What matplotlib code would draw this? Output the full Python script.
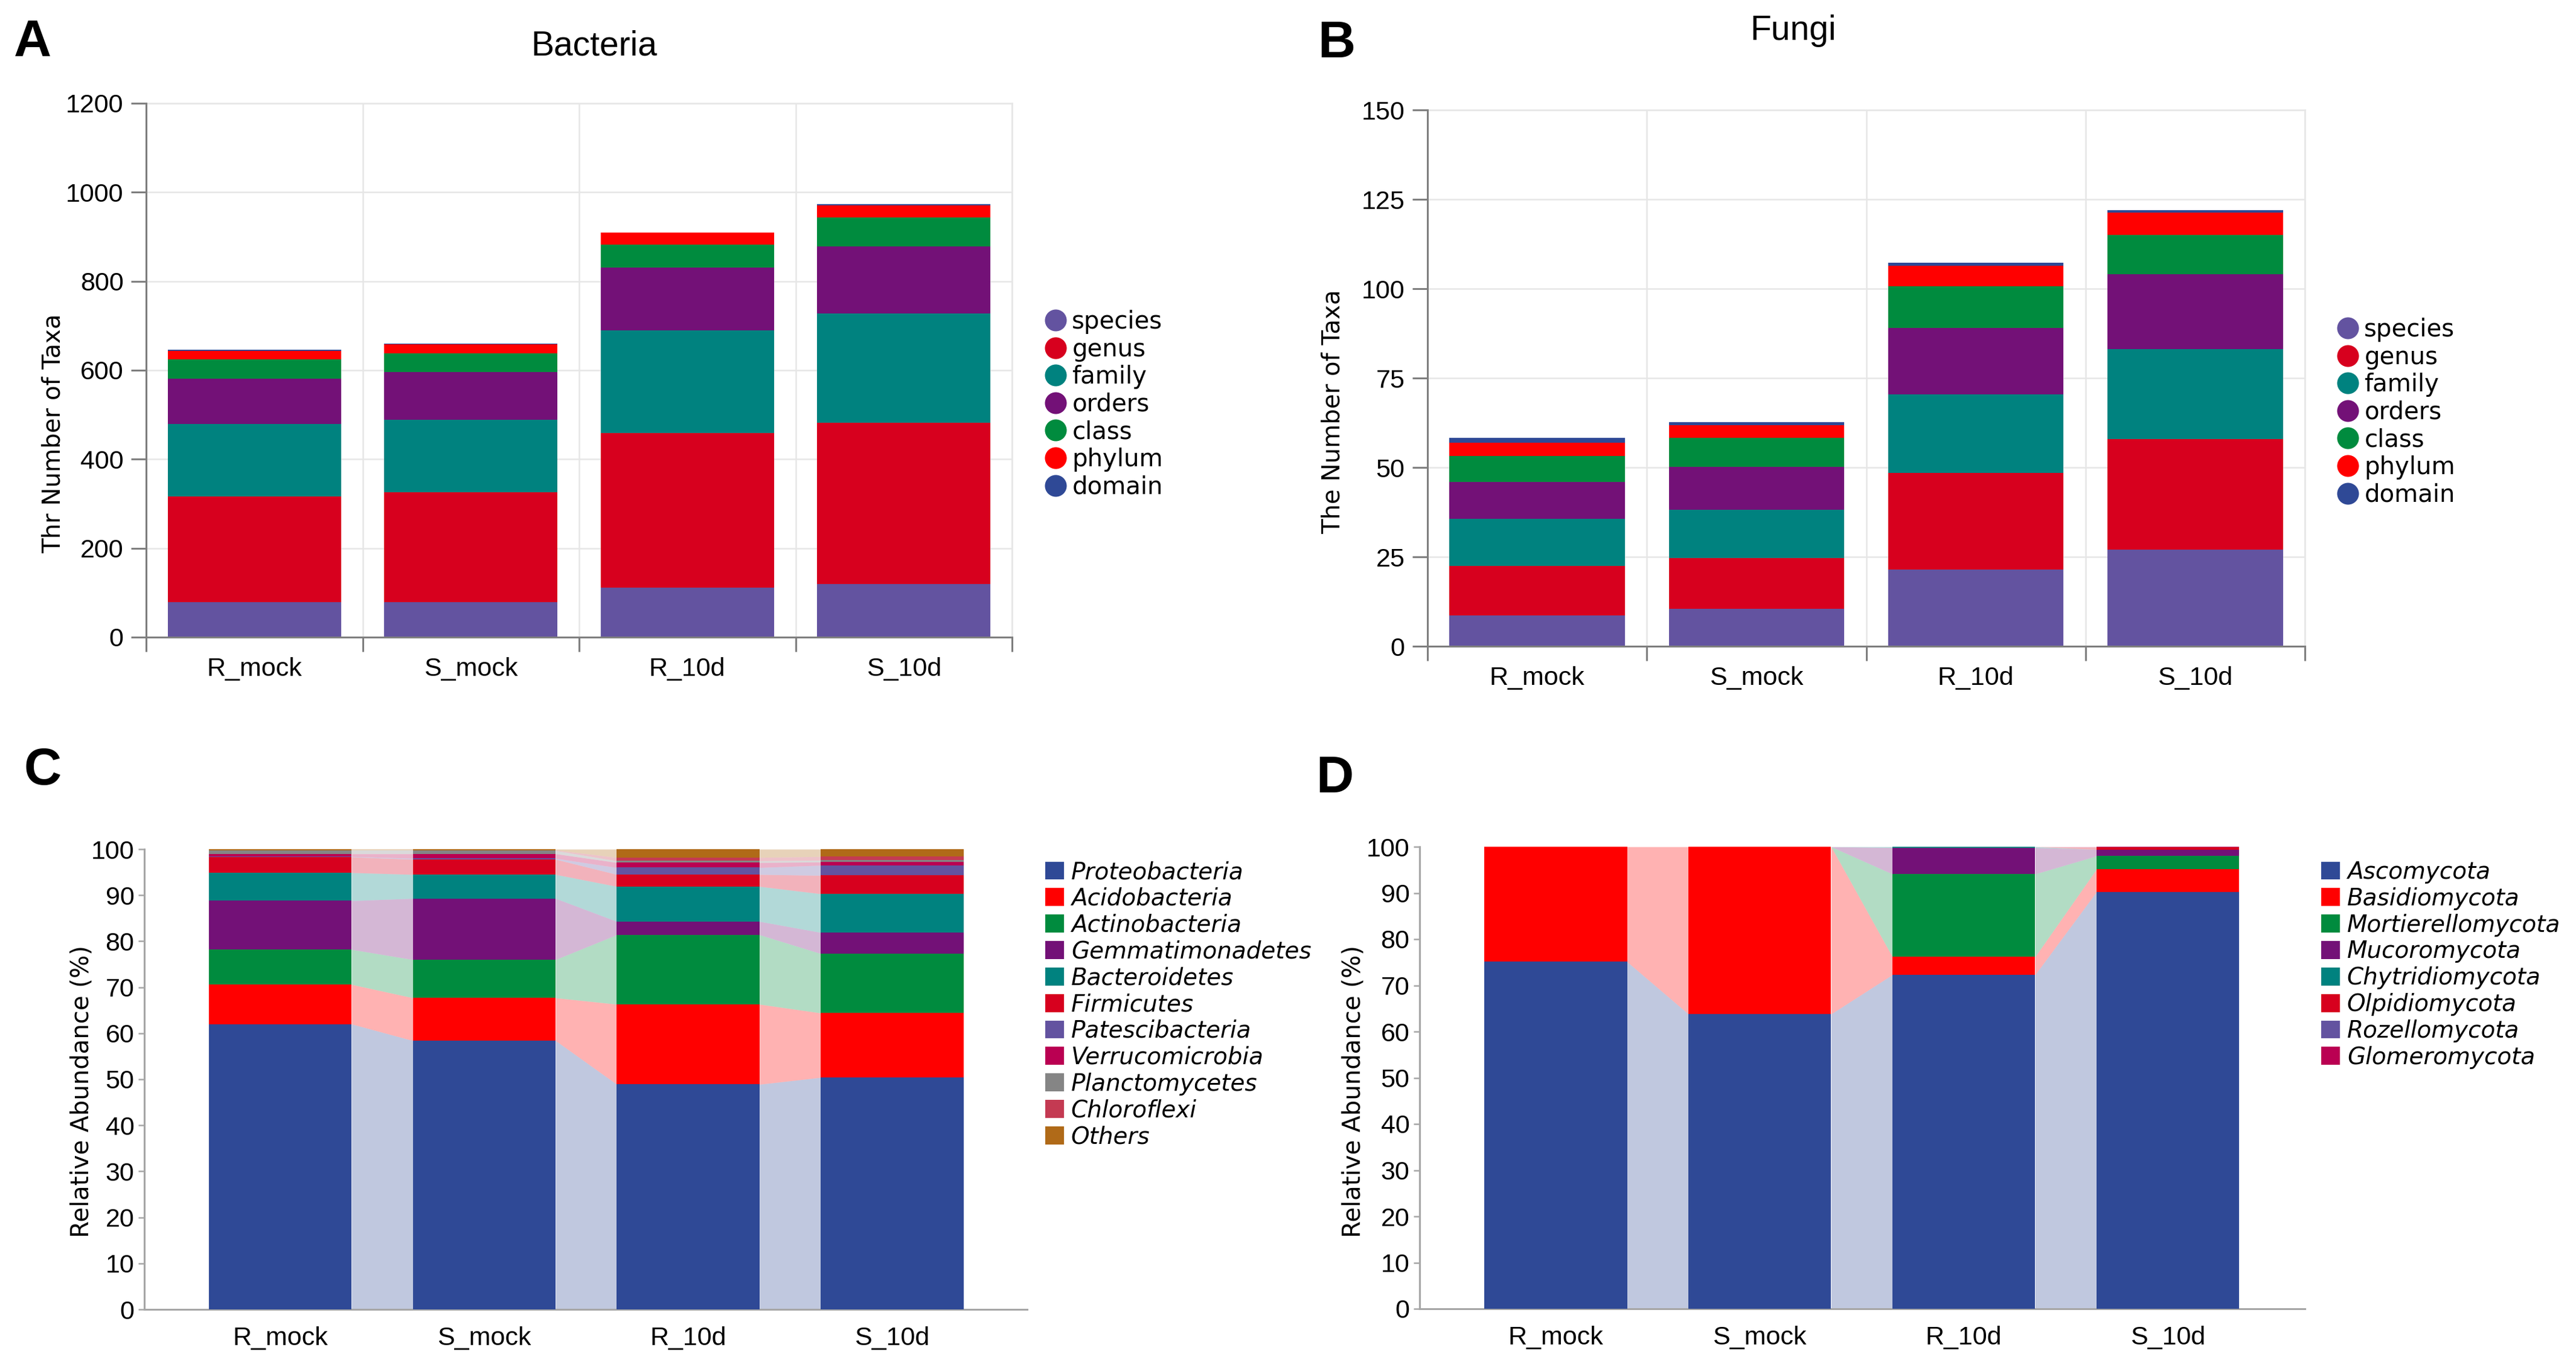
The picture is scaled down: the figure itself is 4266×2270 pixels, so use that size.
import matplotlib
matplotlib.use('Agg')
import matplotlib.pyplot as plt
from matplotlib.lines import Line2D
from matplotlib.patches import Patch
import numpy as np

W, H = 4266, 2270

samples = ['R_mock', 'S_mock', 'R_10d', 'S_10d']

# ---- Panel A: Bacteria taxa counts (stack order bottom -> top)
levels = ['species', 'genus', 'family', 'orders', 'class', 'phylum', 'domain']
bac_species = [79, 79, 111, 120]
bac_genus = [237, 247, 348, 362]
bac_family = [163, 163, 230, 245]
bac_orders = [102, 107, 142, 151]
bac_class = [44, 42, 52, 66]
bac_phylum = [19, 21, 26, 26]
bac_domain = [2, 1, 1, 3]

# ---- Panel B: Fungi taxa counts
fun_species = [8.6, 10.5, 21.5, 27.0]
fun_genus = [13.9, 14.1, 26.9, 30.9]
fun_family = [13.2, 13.5, 22.1, 25.2]
fun_orders = [10.2, 12.1, 18.6, 21.0]
fun_class = [7.3, 8.0, 11.6, 11.0]
fun_phylum = [3.7, 3.6, 5.8, 6.2]
fun_domain = [1.3, 0.9, 0.7, 0.6]

# ---- Panel C: bacterial phyla relative abundance (%)
bac_phyla = ['Proteobacteria', 'Acidobacteria', 'Actinobacteria', 'Gemmatimonadetes',
             'Bacteroidetes', 'Firmicutes', 'Patescibacteria', 'Verrucomicrobia',
             'Planctomycetes', 'Chloroflexi', 'Others']
proteobacteria = [62.0, 58.4, 48.9, 50.4]
acidobacteria = [8.6, 9.3, 17.4, 14.0]
actinobacteria = [7.6, 8.3, 15.1, 12.9]
gemmatimonadetes = [10.6, 13.3, 2.9, 4.6]
bacteroidetes = [6.1, 5.2, 7.6, 8.4]
firmicutes = [3.4, 3.3, 2.6, 4.0]
patescibacteria = [0.1, 0.2, 1.5, 2.2]
verrucomicrobia = [0.6, 1.0, 1.1, 0.7]
planctomycetes = [0.7, 0.7, 0.35, 0.4]
chloroflexi = [0.1, 0.1, 0.75, 0.8]
others = [0.2, 0.2, 1.8, 1.6]

# ---- Panel D: fungal phyla relative abundance (%)
fun_phyla = ['Ascomycota', 'Basidiomycota', 'Mortierellomycota', 'Mucoromycota',
             'Chytridiomycota', 'Olpidiomycota', 'Rozellomycota', 'Glomeromycota']
ascomycota = [75.1, 63.8, 72.3, 90.2]
basidiomycota = [24.9, 36.2, 3.9, 4.9]
mortierellomycota = [0.0, 0.0, 17.9, 2.9]
mucoromycota = [0.0, 0.0, 5.7, 1.4]
chytridiomycota = [0.0, 0.0, 0.2, 0.0]
olpidiomycota = [0.0, 0.0, 0.0, 0.5]
rozellomycota = [0.0, 0.0, 0.0, 0.0]
glomeromycota = [0.0, 0.0, 0.0, 0.1]

# colours
level_colors = ['#6353A0', '#D7001E', '#00827F', '#731177', '#008B3E', '#FF0000', '#2F4996']
bac_colors = ['#2F4996', '#FF0000', '#008B3E', '#731177', '#00827F', '#D7001E',
              '#6353A0', '#BA0052', '#858585', '#C43A52', '#B06A18']
fun_colors = ['#2F4996', '#FF0000', '#008B3E', '#731177', '#00827F', '#D7001E',
              '#6353A0', '#BA0052']

TICKFONT = ['Liberation Sans', 'DejaVu Sans']
LABFONT = ['DejaVu Sans']
TICKSIZE = 31

fig = plt.figure(figsize=(W / 100, H / 100), dpi=100)


def rect(l, t, r, b):
    return [l / W, 1 - b / H, (r - l) / W, (b - t) / H]


def count_panel(box, series, ymax, ystep, ylabel, label_xy):
    ax = fig.add_axes(rect(*box))
    x = np.arange(len(samples))
    bottom = np.zeros(len(samples))
    for vals, c in zip(series, level_colors):
        vals = np.asarray(vals, float)
        ax.bar(x, vals, 0.8, bottom=bottom, color=c, linewidth=0, zorder=3)
        bottom = bottom + vals
    ax.set_xlim(-0.5, 3.5)
    ax.set_ylim(0, ymax)
    ax.set_yticks(np.arange(0, ymax + 1, ystep))
    ax.set_xticks([-0.5, 0.5, 1.5, 2.5, 3.5])
    ax.set_xticklabels([])
    ax.set_xticks(x, minor=True)
    ax.set_xticklabels(samples, minor=True)
    ax.set_axisbelow(True)
    ax.grid(True, which='major', color='#E6E6E6', linewidth=1.8, zorder=0)
    for s in ['left', 'bottom']:
        ax.spines[s].set_color('#7F7F7F')
        ax.spines[s].set_linewidth(2.2)
        ax.spines[s].set_zorder(5)
    for s in ['top', 'right']:
        ax.spines[s].set_color('#E6E6E6')
        ax.spines[s].set_linewidth(1.8)
    ax.tick_params(axis='y', which='major', length=18, width=2.2, color='#7F7F7F',
                   pad=9, labelsize=TICKSIZE)
    ax.tick_params(axis='x', which='major', length=17, width=2.2, color='#7F7F7F')
    ax.tick_params(axis='x', which='minor', length=0, pad=24, labelsize=TICKSIZE)
    for t in ax.get_yticklabels() + ax.get_xticklabels(minor=True):
        t.set_family(TICKFONT)
    ax.set_ylabel(ylabel, family=LABFONT, fontsize=29)
    ax.yaxis.set_label_coords(*label_xy)
    return ax


def abundance_panel(box, series, colors, xlim, ylabel, label_xy):
    ax = fig.add_axes(rect(*box))
    x = np.arange(len(samples))
    w = 0.70
    bottom = np.zeros(len(samples))
    for vals, c in zip(series, colors):
        vals = np.asarray(vals, float)
        top = bottom + vals
        ax.bar(x, vals, w, bottom=bottom, color=c, linewidth=0, zorder=3)
        for i in range(len(samples) - 1):
            xs = [x[i] + w / 2, x[i + 1] - w / 2]
            ax.fill_between(xs, [bottom[i], bottom[i + 1]], [top[i], top[i + 1]],
                            color=c, alpha=0.3, linewidth=0, zorder=2)
        bottom = top
    ax.set_xlim(*xlim)
    ax.set_ylim(0, 100)
    ax.set_yticks(np.arange(0, 101, 10))
    ax.set_xticks(x)
    ax.set_xticklabels(samples)
    for s in ['top', 'right']:
        ax.spines[s].set_visible(False)
    for s in ['left', 'bottom']:
        ax.spines[s].set_color('#A6A6A6')
        ax.spines[s].set_linewidth(2.2)
    ax.tick_params(axis='y', length=7, width=1.8, color='#A6A6A6', pad=5,
                   labelsize=TICKSIZE)
    ax.tick_params(axis='x', length=0, pad=20, labelsize=TICKSIZE)
    for t in ax.get_yticklabels() + ax.get_xticklabels():
        t.set_family(TICKFONT)
    ax.set_ylabel(ylabel, family=LABFONT, fontsize=29)
    ax.yaxis.set_label_coords(*label_xy)
    return ax


axA = count_panel((242, 171, 1676, 1055),
                  [bac_species, bac_genus, bac_family, bac_orders, bac_class, bac_phylum, bac_domain],
                  1200, 200, 'Thr Number of Taxa', (-0.093, 0.382))
axB = count_panel((2364, 182, 3817, 1070),
                  [fun_species, fun_genus, fun_family, fun_orders, fun_class, fun_phylum, fun_domain],
                  150, 25, 'The Number of Taxa', (-0.094, 0.437))

axC = abundance_panel((239, 1406, 1701, 2168),
                      [proteobacteria, acidobacteria, actinobacteria, gemmatimonadetes,
                       bacteroidetes, firmicutes, patescibacteria, verrucomicrobia,
                       planctomycetes, chloroflexi, others],
                      bac_colors, (-0.666, 3.662), 'Relative Abundance (%)', (-0.057, 0.474))
axD = abundance_panel((2351, 1402, 3817, 2167),
                      [ascomycota, basidiomycota, mortierellomycota, mucoromycota,
                       chytridiomycota, olpidiomycota, rozellomycota, glomeromycota],
                      fun_colors, (-0.667, 3.672), 'Relative Abundance (%)', (-0.061, 0.471))

# legends
LEGSIZE = 29


def circle_legend(x0, top):
    handles = [Line2D([], [], marker='o', linestyle='none', markersize=26,
                      markerfacecolor=c, markeredgecolor='none') for c in level_colors]
    fig.legend(handles, levels, loc='upper left', bbox_to_anchor=(x0 / W, 1 - top / H),
               frameon=False, borderpad=0, borderaxespad=0, handlelength=0.95,
               handletextpad=0.2, labelspacing=0.14,
               prop={'family': LABFONT, 'size': LEGSIZE})


def square_legend(x0, top, names, colors):
    handles = [Patch(facecolor=c, edgecolor='none') for c in colors]
    fig.legend(handles, names, loc='upper left', bbox_to_anchor=(x0 / W, 1 - top / H),
               frameon=False, borderpad=0, borderaxespad=0, handlelength=0.8,
               handleheight=0.8, handletextpad=0.3, labelspacing=0.15,
               prop={'family': LABFONT, 'size': 28, 'style': 'oblique'})


circle_legend(1729, 513)
circle_legend(3869, 526)
square_legend(1731, 1425, bac_phyla, bac_colors)
square_legend(3844, 1425, fun_phyla, fun_colors)

# titles and panel letters
fig.text(984 / W, 1 - 76 / H, 'Bacteria', ha='center', va='center', fontsize=41,
         family=TICKFONT)
fig.text(2970 / W, 1 - 51 / H, 'Fungi', ha='center', va='center', fontsize=41,
         family=TICKFONT)
LETTERFONT = ['Liberation Sans Narrow', 'Liberation Sans', 'DejaVu Sans']
for ch, (lx, ly) in zip('ABCD', [(54, 71), (2213, 73), (71, 1277), (2210, 1290)]):
    fig.text(lx / W, 1 - ly / H, ch, ha='center', va='center', fontsize=62,
             fontweight='bold', family=LETTERFONT)

fig.savefig('out.png', dpi=100)
